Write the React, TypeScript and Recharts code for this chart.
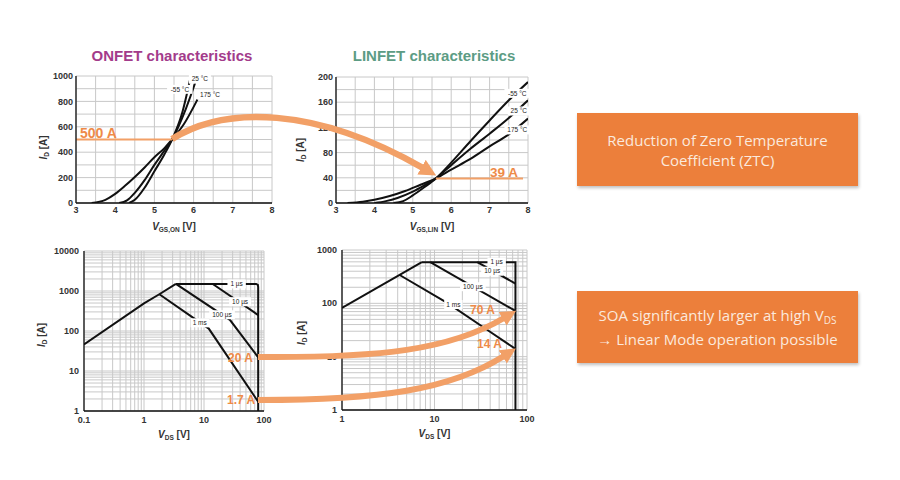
import React from "react";
import {
  LineChart,
  Line,
  XAxis,
  YAxis,
  CartesianGrid,
  ReferenceLine,
  ReferenceDot,
} from "recharts";

const FONT = "'Liberation Sans', Arial, sans-serif";
const ARROW = "#f2a067";
const LABEL_ORANGE = "#ee8a48";
const BOX = "#ec7f3b";

// ONFET transfer characteristics, VGS [V] vs ID [A]
const onVgsM55 = [4.35, 4.5, 4.75, 5.0, 5.25, 5.45, 5.7, 5.93];
const onIdM55 = [0, 25, 120, 250, 380, 500, 700, 1000];
const onVgs25 = [4.1, 4.3, 4.5, 4.75, 5.0, 5.25, 5.45, 5.8, 6.1];
const onId25 = [0, 20, 80, 180, 300, 410, 500, 740, 1000];
const onVgs175 = [3.4, 3.75, 4.0, 4.25, 4.5, 4.75, 5.0, 5.25, 5.45, 5.75, 6.1];
const onId175 = [0, 25, 72, 135, 205, 280, 360, 430, 500, 620, 816];

// LINFET transfer characteristics
const linVgsM55 = [4.5, 4.75, 5.0, 5.3, 5.6, 6.0, 6.5, 7.0, 7.5, 8.0];
const linIdM55 = [0, 3, 12, 25, 39, 64, 98, 131, 163, 192];
const linVgs25 = [4.0, 4.3, 4.6, 5.0, 5.3, 5.6, 6.0, 6.5, 7.0, 7.5, 8.0];
const linId25 = [0, 3, 8, 18, 28, 39, 60, 86, 110, 135, 163];
const linVgs175 = [3.3, 3.7, 4.0, 4.4, 4.8, 5.2, 5.6, 6.0, 6.5, 7.0, 7.5, 8.0];
const linId175 = [0, 2, 5, 11, 19, 29, 39, 53, 70, 90, 109, 134];

// ONFET safe operating area, VDS [V] vs ID [A]
const onSoaRiseV = [0.1, 1, 1.8, 3.4];
const onSoaRiseI = [46, 490, 830, 1500];
const onSoa1usV = [3.4, 74, 79, 80, 80];
const onSoa1usI = [1500, 1500, 1420, 1250, 1];
const onSoa10usV = [14, 80];
const onSoa10usI = [1500, 250];
const onSoa100usV = [3.4, 27, 80];
const onSoa100usI = [1500, 190, 22];
const onSoa1msV = [1.8, 12, 80];
const onSoa1msI = [830, 115, 1.7];

// LINFET safe operating area
const linSoaRiseV = [1, 4.2, 7.3];
const linSoaRiseI = [82, 340, 590];
const linSoa1usV = [7.3, 75, 75];
const linSoa1usI = [590, 590, 1];
const linSoa10usV = [29, 75];
const linSoa10usI = [590, 235];
const linSoa100usV = [9, 75];
const linSoa100usI = [590, 72];
const linSoa1msV = [4.2, 14, 37, 75];
const linSoa1msI = [340, 100, 32, 14];

// axis ticks
const vgsTicks = [3, 3.5, 4, 4.5, 5, 5.5, 6, 6.5, 7, 7.5, 8];
const vgsLabels = [3, 4, 5, 6, 7, 8];
const onIdTicks = [0, 100, 200, 300, 400, 500, 600, 700, 800, 900, 1000];
const onIdLabels = [0, 200, 400, 600, 800, 1000];
const linIdTicks = [0, 20, 40, 60, 80, 100, 120, 140, 160, 180, 200];
const linIdLabels = [0, 40, 80, 120, 160, 200];
const onVdsDecades = [0.1, 1, 10, 100];
const linVdsDecades = [1, 10, 100];
const onIdDecades = [1, 10, 100, 1000, 10000];
const linIdDecades = [1, 10, 100, 1000];

const zip = (xs: number[], ys: number[]) => xs.map((x, i) => ({ x, y: ys[i] }));
const logTicks = (dec: number[]) =>
  dec
    .slice(0, -1)
    .flatMap((d) => [1, 2, 3, 4, 5, 6, 7, 8, 9].map((k) => k * d))
    .concat(dec[dec.length - 1]);

function AxisTick(props: any) {
  const { x, y, payload, major, side } = props;
  if (!major.includes(payload.value)) return <g />;
  return (
    <text
      x={x}
      y={y}
      dy={side === "x" ? "0.71em" : "0.35em"}
      textAnchor={side === "x" ? "middle" : "end"}
      fontSize={9}
      fontWeight={700}
      fill="#333"
      fontFamily={FONT}
    >
      {String(payload.value)}
    </text>
  );
}

function AxisTitle(props: any) {
  const { viewBox, sym, sub, unit, vertical, dx = 0, dy = 0 } = props;
  const { x, y, width, height } = viewBox;
  const parts = [
    <tspan key="a" fontStyle="italic">{sym}</tspan>,
    <tspan key="b" fontSize={6.5} dy={2}>{sub}</tspan>,
    <tspan key="c" dy={-2}>{" " + unit}</tspan>,
  ];
  const common = { fontSize: 10, fontWeight: 700, fill: "#333", fontFamily: FONT, textAnchor: "middle" as const };
  if (vertical) {
    const cx = x + dx;
    const cy = y + height / 2 + dy;
    return (
      <text {...common} transform={`translate(${cx},${cy}) rotate(-90)`}>
        {parts}
      </text>
    );
  }
  return (
    <text {...common} x={x + width / 2 + dx} y={y + 27 + dy}>
      {parts}
    </text>
  );
}

function Tag(props: any) {
  const { viewBox, text } = props;
  const cx = viewBox.x + viewBox.width / 2;
  const cy = viewBox.y + viewBox.height / 2;
  const w = text.length * 3.6 + 4;
  return (
    <g>
      <rect x={cx - w / 2} y={cy - 4.5} width={w} height={9} fill="#fff" />
      <text x={cx} y={cy} dy="0.35em" textAnchor="middle" fontSize={6.5} fill="#222" fontFamily={FONT}>
        {text}
      </text>
    </g>
  );
}

function Panel(p: any) {
  return (
    <div style={{ position: "absolute", left: p.left, top: p.top }}>
      <LineChart width={p.width} height={p.height} margin={{ top: 10, right: 8, left: 0, bottom: 0 }}>
        <CartesianGrid stroke="#c8c8c8" strokeWidth={1} />
        <XAxis
          type="number"
          dataKey="x"
          scale={p.log ? "log" : "auto"}
          domain={p.xDomain}
          ticks={p.xTicks}
          interval={0}
          allowDataOverflow
          height={35}
          tickLine={false}
          tickSize={0}
          tickMargin={p.log ? 6 : 4}
          axisLine={{ stroke: "#111", strokeWidth: 1.3 }}
          tick={<AxisTick side="x" major={p.xMajor} />}
          label={<AxisTitle sym="V" sub={p.xSub} unit="[V]" />}
        />
        <YAxis
          type="number"
          scale={p.log ? "log" : "auto"}
          domain={p.yDomain}
          ticks={p.yTicks}
          interval={0}
          allowDataOverflow
          width={p.yw}
          tickLine={false}
          tickSize={0}
          tickMargin={p.log ? 5 : 3}
          axisLine={{ stroke: "#111", strokeWidth: 1.3 }}
          tick={<AxisTick side="y" major={p.yMajor} />}
          label={<AxisTitle vertical sym="I" sub="D" unit="[A]" dx={p.yTitleX} dy={p.yTitleDy} />}
        />
        {p.curves.map((c: any, i: number) => (
          <Line
            key={i}
            data={zip(c[0], c[1])}
            dataKey="y"
            type={p.log ? "linear" : "monotone"}
            stroke="#111"
            strokeWidth={2}
            dot={false}
            isAnimationActive={false}
          />
        ))}
        {(p.segs || []).map((s: any, i: number) => (
          <ReferenceLine key={"s" + i} segment={s} stroke={ARROW} strokeWidth={2} />
        ))}
        {p.tags.map((t: any, i: number) => (
          <ReferenceDot key={"t" + i} x={t[0]} y={t[1]} r={0} fill="none" stroke="none" label={<Tag text={t[2]} />} />
        ))}
      </LineChart>
    </div>
  );
}

const boxStyle: React.CSSProperties = {
  position: "absolute",
  left: 577,
  width: 281,
  background: BOX,
  boxShadow: "1px 2px 3px rgba(0,0,0,0.25)",
  color: "#fbe9dd",
  fontFamily: "'Open Sans', sans-serif",
  fontSize: 15,
  textAlign: "center",
  display: "flex",
  flexDirection: "column",
  justifyContent: "center",
};

export default function App() {
  return (
    <div style={{ position: "absolute", left: 0, top: 0, width: 900, height: 480, background: "#fff", overflow: "hidden", fontFamily: FONT }}>
      <div style={{ position: "absolute", left: 72, top: 47, width: 200, textAlign: "center", fontSize: 15, fontWeight: 700, color: "#a33b8b" }}>
        ONFET characteristics
      </div>
      <div style={{ position: "absolute", left: 334, top: 47, width: 200, textAlign: "center", fontSize: 15, fontWeight: 700, color: "#5c9c84" }}>
        LINFET characteristics
      </div>

      <Panel
        left={30} top={66} width={250} height={172} yw={46}
        xDomain={[3, 8]} yDomain={[0, 1000]}
        xTicks={vgsTicks} xMajor={vgsLabels} yTicks={onIdTicks} yMajor={onIdLabels}
        xSub="GS,ON" yTitleX={17} yTitleDy={8}
        curves={[[onVgsM55, onIdM55], [onVgs25, onId25], [onVgs175, onId175]]}
        segs={[[{ x: 3, y: 500 }, { x: 5.45, y: 500 }]]}
        tags={[[5.65, 895, "-55 °C"], [6.16, 975, "25 °C"], [6.42, 850, "175 °C"]]}
      />
      <Panel
        left={290} top={67} width={246} height={171} yw={46}
        xDomain={[3, 8]} yDomain={[0, 200]}
        xTicks={vgsTicks} xMajor={vgsLabels} yTicks={linIdTicks} yMajor={linIdLabels}
        xSub="GS,LIN" yTitleX={14} yTitleDy={10}
        curves={[[linVgsM55, linIdM55], [linVgs25, linId25], [linVgs175, linId175]]}
        segs={[[{ x: 5.6, y: 39 }, { x: 7.87, y: 39 }]]}
        tags={[[7.72, 174, "-55 °C"], [7.76, 146, "25 °C"], [7.72, 116, "175 °C"]]}
      />
      <Panel
        left={30} top={241} width={242} height={205} yw={54} log
        xDomain={[0.1, 100]} yDomain={[1, 10000]}
        xTicks={logTicks(onVdsDecades)} xMajor={onVdsDecades}
        yTicks={logTicks(onIdDecades)} yMajor={onIdDecades}
        xSub="DS" yTitleX={15} yTitleDy={4}
        curves={[
          [onSoaRiseV, onSoaRiseI], [onSoa1usV, onSoa1usI], [onSoa10usV, onSoa10usI],
          [onSoa100usV, onSoa100usI], [onSoa1msV, onSoa1msI],
        ]}
        tags={[[35, 1500, "1 µs"], [40, 540, "10 µs"], [20, 255, "100 µs"], [8.5, 160, "1 ms"]]}
      />
      <Panel
        left={290} top={240} width={245} height={205} yw={52} log
        xDomain={[1, 100]} yDomain={[1, 1000]}
        xTicks={logTicks(linVdsDecades)} xMajor={linVdsDecades}
        yTicks={logTicks(linIdDecades)} yMajor={linIdDecades}
        xSub="DS" yTitleX={15} yTitleDy={3}
        curves={[
          [linSoaRiseV, linSoaRiseI], [linSoa1usV, linSoa1usI], [linSoa10usV, linSoa10usI],
          [linSoa100usV, linSoa100usI], [linSoa1msV, linSoa1msI],
        ]}
        tags={[[47, 590, "1 µs"], [42, 400, "10 µs"], [26, 205, "100 µs"], [16, 95, "1 ms"]]}
      />

      <svg width={900} height={480} style={{ position: "absolute", left: 0, top: 0, pointerEvents: "none" }}>
        <defs>
          <marker id="head" viewBox="0 0 10 10" refX="1" refY="5" markerWidth="2.6" markerHeight="2.6" orient="auto" markerUnits="strokeWidth">
            <path d="M0,0 L10,5 L0,10 z" fill={ARROW} />
          </marker>
        </defs>
        <path d="M172 139 C225 106 315 106 423 168" fill="none" stroke={ARROW} strokeWidth={6.5} markerEnd="url(#head)" />
        <path d="M258 357 C380 358 450 350 504 318" fill="none" stroke={ARROW} strokeWidth={6} markerEnd="url(#head)" />
        <path d="M258 400 C380 400 450 390 504 356" fill="none" stroke={ARROW} strokeWidth={6} markerEnd="url(#head)" />
        <g fontFamily={FONT} fontWeight={700} fill={LABEL_ORANGE}>
          <text x={80} y={138} fontSize={14}>500 A</text>
          <text x={490} y={177} fontSize={13.5}>39 A</text>
          <text x={228} y={362} fontSize={12}>20 A</text>
          <text x={227} y={404} fontSize={12}>1.7 A</text>
          <text x={470} y={314} fontSize={12}>70 A</text>
          <text x={477} y={348} fontSize={12}>14 A</text>
        </g>
      </svg>

      <div style={{ ...boxStyle, top: 113, height: 73, lineHeight: "20px" }}>
        <div>Reduction of Zero Temperature</div>
        <div>Coefficient (ZTC)</div>
      </div>
      <div style={{ ...boxStyle, top: 291, height: 72, lineHeight: "24px" }}>
        <div>
          SOA significantly larger at high V<sub style={{ fontSize: 10, verticalAlign: "-3px", lineHeight: 0 }}>DS</sub>
        </div>
        <div>→ Linear Mode operation possible</div>
      </div>
    </div>
  );
}
